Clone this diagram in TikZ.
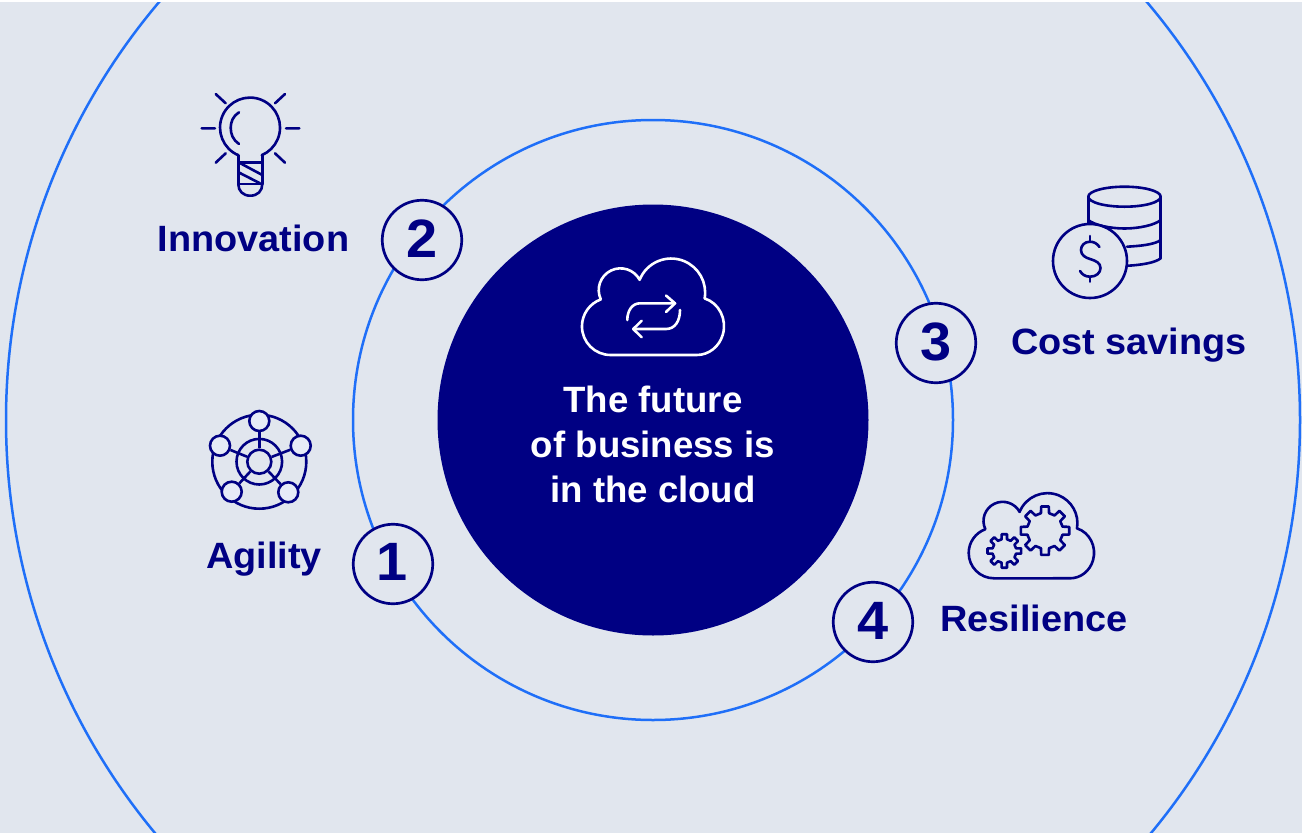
\documentclass[tikz,border=0pt]{standalone}
\usepackage{fontspec}
\setmainfont{Liberation Sans}[BoldFeatures={FakeStretch=1.035}]
\newfontfamily\titlefont{Liberation Sans}
\definecolor{navy}{HTML}{000083}
\definecolor{ringblue}{HTML}{1F6FF8}
\definecolor{bgc}{HTML}{E1E6EE}
\definecolor{satc}{HTML}{E6EBF7}
\tikzset{
  ring/.style={draw=ringblue,line width=2.5pt},
  badge/.style={circle,draw=navy,fill=bgc,line width=2.7pt,minimum size=79.5pt,inner sep=0pt},
  numeral/.style={anchor=base,text=navy,font=\fontsize{54}{54}\selectfont\bfseries,inner sep=0pt},
  lbl/.style={anchor=base,text=navy,font=\fontsize{36.6}{40}\selectfont\bfseries,inner sep=0pt},
  title/.style={anchor=base,text=white,font=\titlefont\fontsize{36.6}{40}\selectfont\bfseries,inner sep=0pt},
  icon/.style={draw=navy,line width=2.6pt,line cap=round,line join=round},
  iconw/.style={draw=white,line width=2.6pt,line cap=round,line join=round},
  sat/.style={circle,draw=navy,fill=satc,line width=2.6pt,minimum size=20pt,inner sep=0pt},
}
\newcommand{\cloudshape}{(25,0) arc[start angle=90,end angle=250,radius=25.3pt]
  arc[start angle=154.7,end angle=331.7,radius=19.2pt]
  arc[start angle=202,end angle=370,radius=30pt]
  arc[start angle=286.7,end angle=450,x radius=24pt,y radius=25.5pt] -- cycle}
\newcommand{\gearshape}[4]{% cx cy outer inner
  ({#1+#3*cos(-9)},{#2+#3*sin(-9)})
  \foreach \k in {0,45,...,315}{
    -- ({#1+#3*cos(\k-9)},{#2+#3*sin(\k-9)})
    -- ({#1+#3*cos(\k+9)},{#2+#3*sin(\k+9)})
    -- ({#1+#4*cos(\k+13)},{#2+#4*sin(\k+13)})
    -- ({#1+#4*cos(\k+32)},{#2+#4*sin(\k+32)})
  } -- cycle}
\begin{document}
\begin{tikzpicture}[x=1pt,y=1pt,yscale=-1]
\useasboundingbox (0,0) rectangle (1302,833);
\fill[white] (0,0) rectangle (1302,833);
\fill[bgc] (0,2) rectangle (1302,833);
\begin{scope}
\clip (0,2) rectangle (1302,833);
\draw[ring] (653,420) circle[radius=647pt];
\end{scope}
\draw[ring] (653,420) circle[radius=300pt];
\fill[navy] (653,420) circle[radius=215.5pt];

% central cloud
\begin{scope}[shift={(582.3,355)},scale=1.133]
\draw[iconw] \cloudshape;
\end{scope}
\draw[iconw] (627.3,320) .. controls (627.3,311) and (632,303.3) .. (640,303.3) -- (675,303.3);
\draw[iconw] (666,295.5) -- (675,303.3) -- (666,312);
\draw[iconw] (680,310) .. controls (680,321) and (675,329) .. (666,329) -- (633.3,329);
\draw[iconw] (641.7,320.7) -- (633.3,329) -- (641.7,337.3);

\node[title] (t1) at (653,412) {The future};
\node[title] (t2) at (653,457) {of business is};
\node[title] (t3) at (653,502) {in the cloud};

% badges
\node[badge] (b1) at (393,564) {};
\node[badge] (b2) at (422,240) {};
\node[badge] (b3) at (936,343) {};
\node[badge] (b4) at (873,622) {};
\node[numeral] (n1) at (392.5,580.7) {1};
\node[numeral] (n2) at (422,257) {2};
\node[numeral] (n3) at (936.5,360) {3};
\node[numeral] (n4) at (873,639) {4};

% labels
\node[lbl] (l1) at (264,568) {Agility};
\node[lbl] (l2) at (253.5,251.7) {Innovation};
\node[lbl] (l3) at (1129,354) {Cost savings};
\node[lbl] (l4) at (1034,631) {Resilience};

% bulb
\draw[icon] (238.3,155.2) arc[start angle=113,end angle=427,radius=30pt];
\draw[icon] (238.3,155.2) -- (238.3,184) (262.3,155.2) -- (262.3,184);
\draw[icon] (238.3,162.7) -- (262.3,162.7);
\draw[icon] (238.3,184) -- (262.3,184);
\draw[icon] (238.3,184) .. controls (238.3,191) and (243,195.7) .. (250.3,195.7) .. controls (257.6,195.7) and (262.3,191) .. (262.3,184);
\draw[icon] (239.3,162.7) -- (262.3,175) (239.3,172.7) -- (260,183.3);
\draw[icon] (239,112.3) .. controls (233,116) and (230.7,122) .. (230.7,127.7) .. controls (230.7,134) and (233,140) .. (239,144);
\draw[icon] (215.7,94) -- (225.7,103.3) (285,94) -- (275,103.3)
  (201.7,128.3) -- (215,128.3) (286,128.3) -- (299.3,128.3)
  (215.7,162.7) -- (225.7,153.3) (285,162.7) -- (275,153.3);

% network
\draw[icon] (259.3,461.7) circle[radius=47pt];
\draw[icon] (259.3,461.7) circle[radius=22.8pt];
\node[circle,draw=navy,line width=2.6pt,minimum size=24pt,inner sep=0pt] (hub) at (259.3,461.7) {};
\node[sat] (s1) at (259.3,421) {};
\node[sat] (s2) at (220,445.7) {};
\node[sat] (s3) at (300.7,445.7) {};
\node[sat] (s4) at (231.7,491.7) {};
\node[sat] (s5) at (288.3,492.3) {};
\foreach \s in {s1,s2,s3,s4,s5} \draw[navy,line width=2.6pt] (hub) -- (\s);

% coins
\draw[icon] (1124.5,196.7) ellipse[x radius=36.2pt,y radius=10pt];
\draw[icon] (1088.3,196.7) -- (1088.3,225) (1160.7,196.7) -- (1160.7,258.3);
\draw[icon] (1088.3,220) .. controls (1094,225) and (1110,228.5) .. (1124.5,228.5) .. controls (1139,228.5) and (1155,225) .. (1160.7,220);
\draw[icon] (1127,246.7) .. controls (1140,246) and (1155,244.5) .. (1160.7,240);
\draw[icon] (1128.3,265.7) .. controls (1140,265) and (1155,263) .. (1160.7,258.3);
\draw[icon,fill=bgc] (1090,261) circle[radius=37pt];
\draw[icon] (1099.5,247) .. controls (1097,243.5) and (1094,241.7) .. (1090,241.7) .. controls (1084.5,241.7) and (1081,245.5) .. (1081,250) .. controls (1081,255) and (1085,257.5) .. (1090,259) .. controls (1096,260.8) and (1100.5,263) .. (1100.5,268) .. controls (1100.5,273) and (1096,276.7) .. (1090,276.7) .. controls (1085.5,276.7) and (1082,274.5) .. (1080,271);
\draw[icon] (1090,236) -- (1090,241.7) (1090,276.7) -- (1090,281.7);

% gear cloud
\begin{scope}[shift={(969,578.3)}]
\draw[icon] \cloudshape;
\end{scope}
\draw[icon,fill=bgc] \gearshape{1045}{530.7}{24.5}{18};
\draw[icon,fill=bgc] \gearshape{1004.3}{551}{17}{12};
\end{tikzpicture}
\end{document}
